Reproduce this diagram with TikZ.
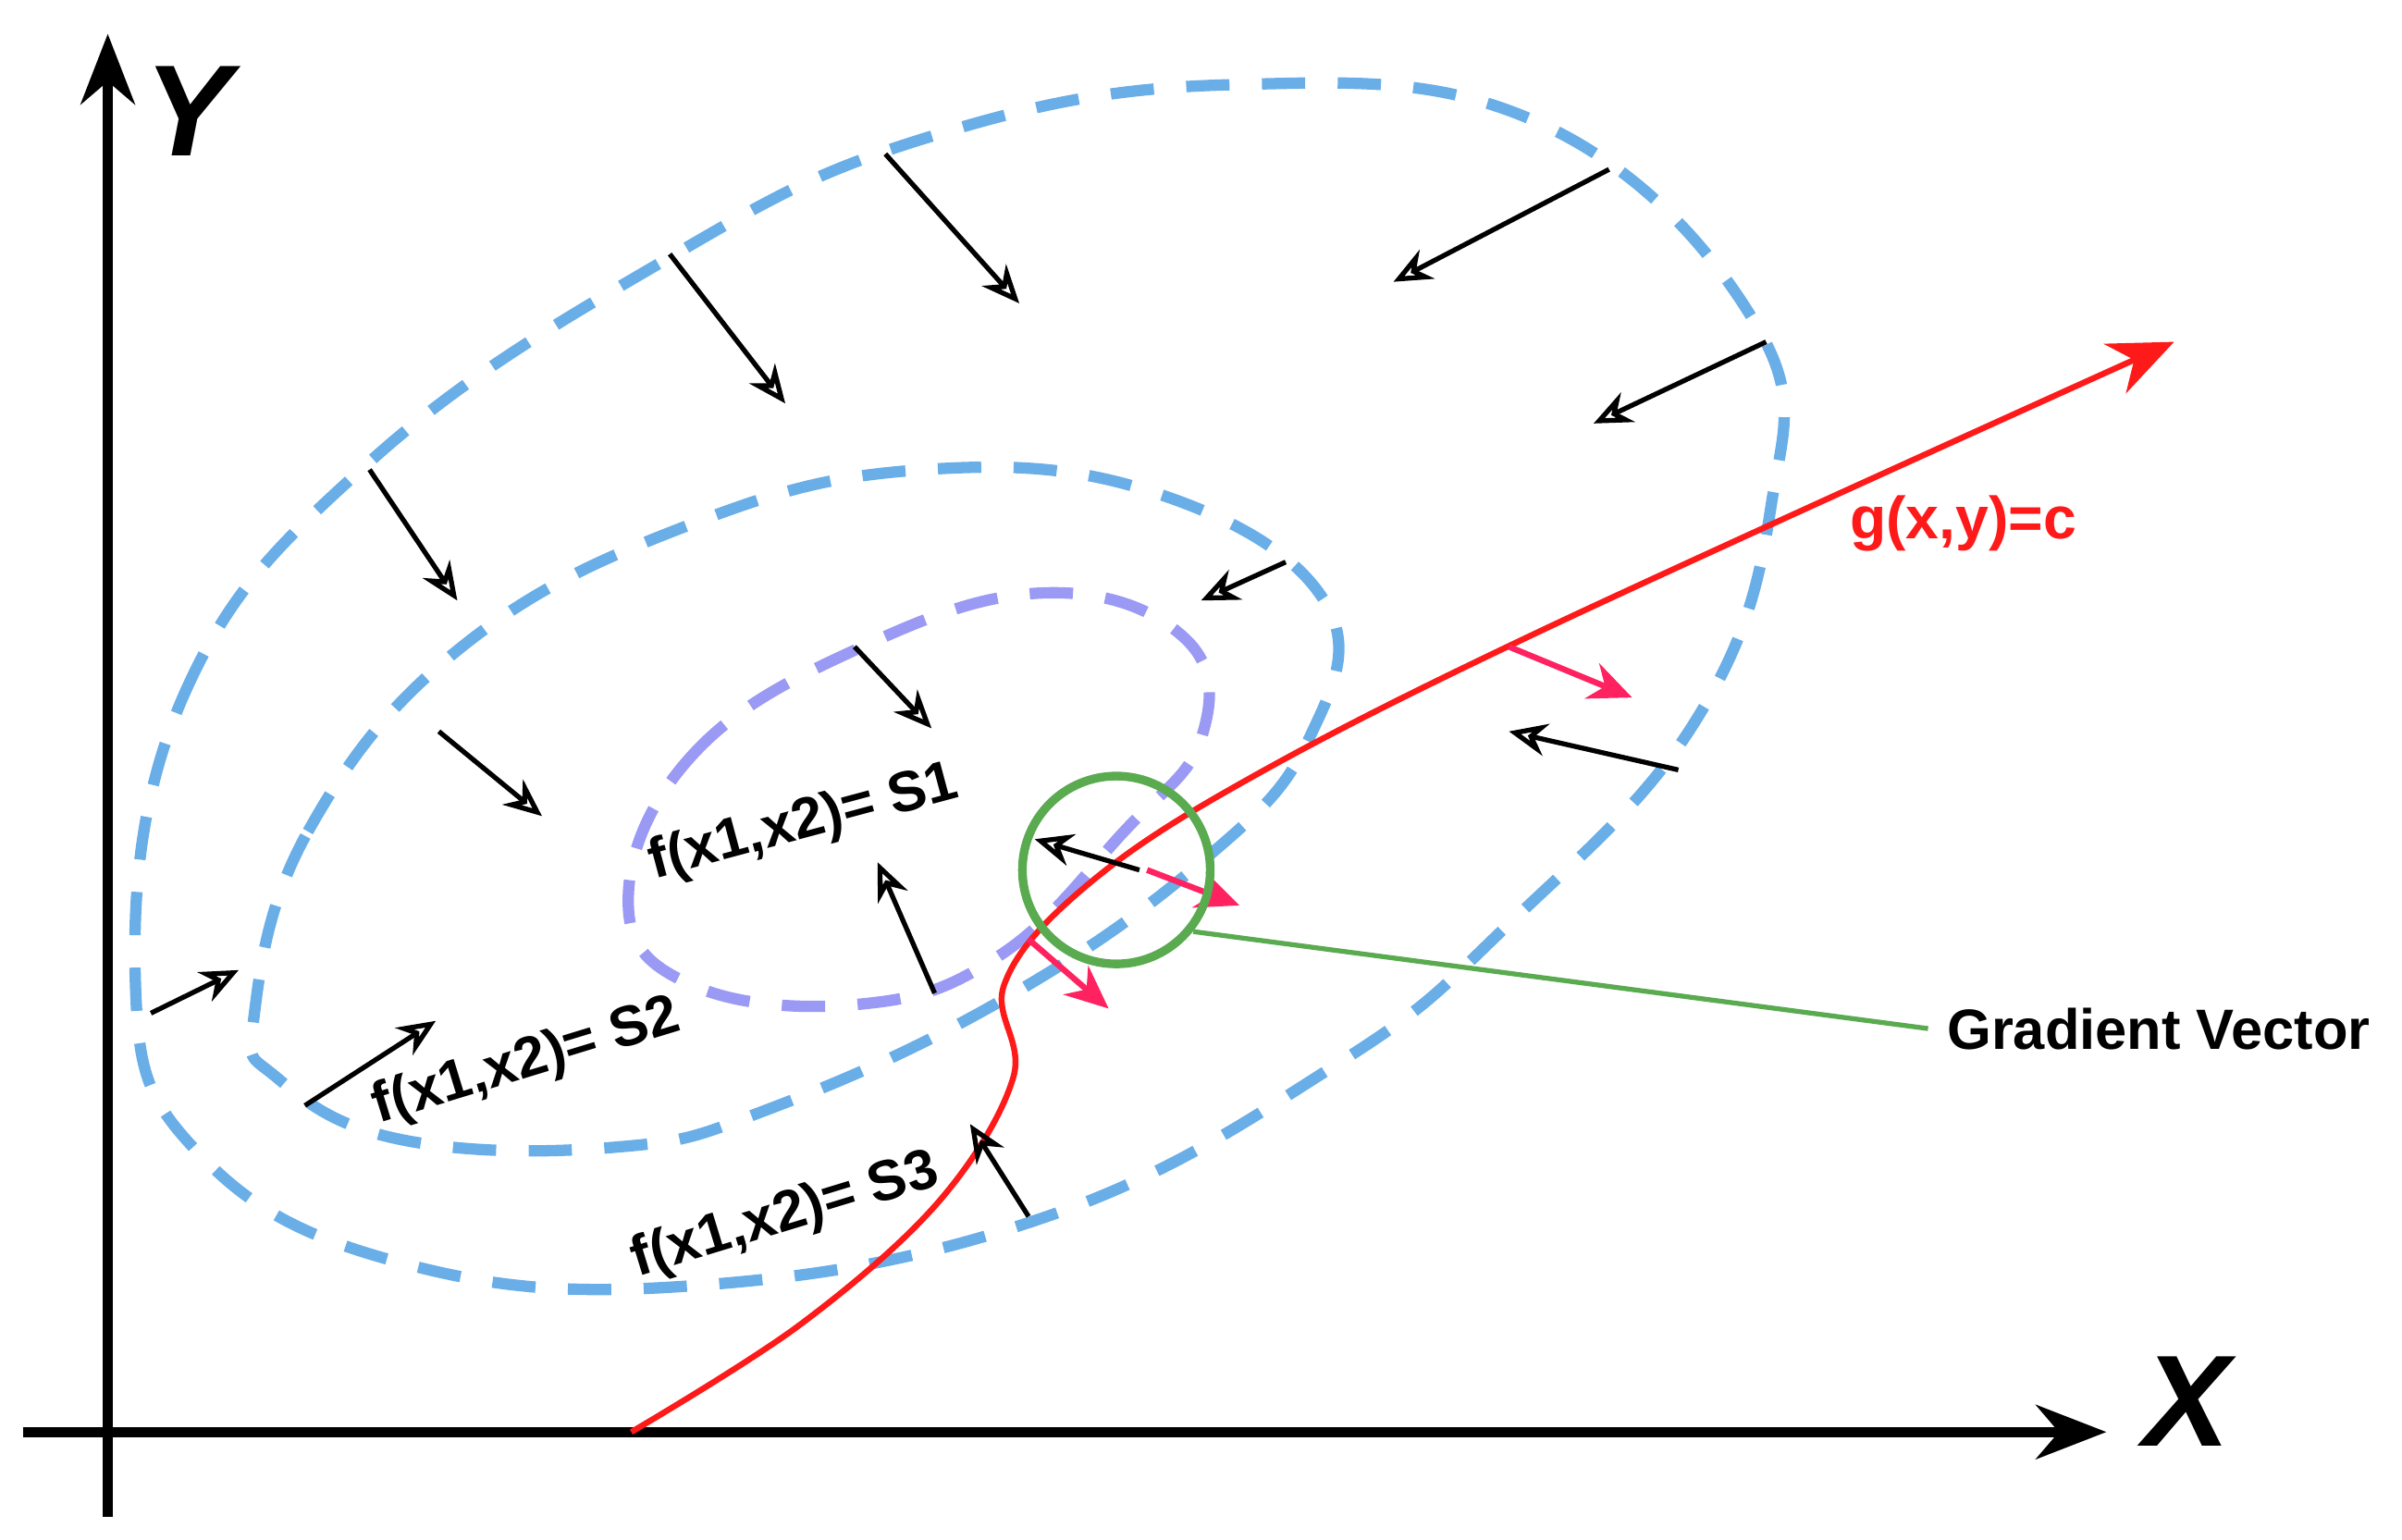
\documentclass[tikz,border=0pt]{standalone}
\usepackage{fontspec}
\setmainfont{Liberation Sans}
\usetikzlibrary{arrows.meta}
\definecolor{lb}{HTML}{6AAEE8}
\definecolor{pu}{HTML}{9A9AF5}
\definecolor{rd}{HTML}{FF1A1A}
\definecolor{pk}{HTML}{FF2260}
\definecolor{gr}{HTML}{5AAA50}
\begin{document}
\begin{tikzpicture}[x=0.1mm,y=-0.1mm,
 cont/.style={line width=2.1pt,dash pattern=on 8pt off 6pt},
 vec/.style={line width=0.9pt,-{Stealth[open,length=7pt,width=6pt]}},
 rvec/.style={line width=1.1pt,pk,-{Stealth[length=8pt,width=7pt]}},
 lab/.style={font=\bfseries\fontsize{10.5}{12}\selectfont}]
\useasboundingbox (0,0) rectangle (1560,1000);
% axes
\draw[line width=1.8pt,-{Stealth[length=13pt,width=10pt]}] (70,985) -- (70,22);
\draw[line width=1.8pt,-{Stealth[length=13pt,width=10pt]}] (15,930) -- (1368,930);
\node[font=\bfseries\itshape\fontsize{24}{26}\selectfont] (ylab) at (122,72) {Y};
\node[font=\bfseries\itshape\fontsize{24}{26}\selectfont] (xlab) at (1420,910) {X};
% contours
\draw[cont,lb] plot[smooth cycle,tension=0.7] coordinates {(88,640)(120,450)(240,300)(430,170)(600,90)(800,55)(1000,80)(1140,210)(1150,330)(1100,470)(980,600)(870,690)(680,790)(450,835)(260,820)(130,750)};
\draw[cont,lb] plot[smooth cycle,tension=0.7] coordinates {(165,660)(200,540)(300,420)(450,340)(600,305)(750,320)(860,390)(850,480)(780,560)(650,650)(500,720)(400,745)(260,740)(180,700)};
\draw[cont,pu] plot[smooth cycle,tension=0.7] coordinates {(408,585)(450,490)(560,420)(680,385)(770,415)(780,480)(730,540)(650,620)(560,652)(450,640)};
% constraint curve
\draw[rd,line width=1.1pt,-{Stealth[length=12pt,width=10pt]}] plot[smooth,tension=0.6] coordinates {(410,930)(520,860)(610,780)(658,700)(652,640)(700,580)(800,512)(1000,410)(1412,222)};
\node[rd,font=\bfseries\fontsize{11}{13}\selectfont] (g) at (1275,340) {g(x,y)=c};
% black vectors
\foreach \xa/\ya/\xb/\yb in {575/100/662/197,435/165/510/262,1045/110/905/183,1147/222/1035/275,240/305/297/390,835/365/780/390,555/420/605/473,285/475/352/530,1090/500/980/475,607/645/570/560,740/565/672/545,98/658/155/630,198/718/283/663,668/790/630/730}
  \draw[vec] (\xa,\ya) -- (\xb,\yb);
% red vectors
\draw[rvec] (980,420) -- (1060,453);
\draw[rvec] (745,565) -- (805,588);
\draw[rvec] (668,610) -- (720,655);
% green circle and callout
\node[draw=gr,line width=1.6pt,circle,inner sep=0pt,minimum size=12.2mm] (c) at (725,565) {};
\node[lab] (gv) at (1402,668) {Gradient Vector};
\draw[gr,line width=0.9pt] (775,605) -- (gv.west);
% labels
\node[lab,rotate=15] (s1) at (522,535) {f(x1,x2)= S1};
\node[lab,rotate=17] (s2) at (342,690) {f(x1,x2)= S2};
\node[lab,rotate=17] (s3) at (510,790) {f(x1,x2)= S3};
\end{tikzpicture}
\end{document}
